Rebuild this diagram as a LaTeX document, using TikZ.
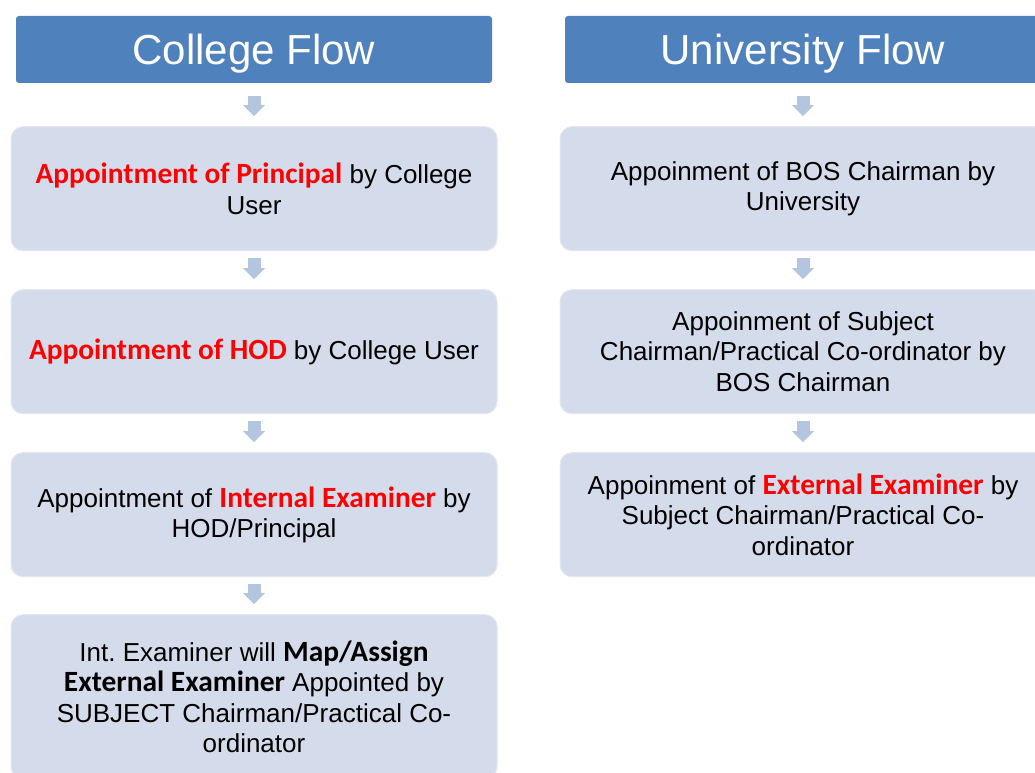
\documentclass[tikz,border=0pt]{standalone}
\usepackage{fontspec}
\setmainfont{Liberation Sans}
\newfontfamily\hlfont[Scale=1.13]{Carlito}
\usetikzlibrary{positioning, arrows.meta}
\frenchspacing

\definecolor{headblue}{RGB}{79,129,189}
\definecolor{stepfill}{RGB}{212,220,235}
\definecolor{stepline}{RGB}{226,231,242}
\definecolor{arrowblue}{RGB}{180,197,224}
\definecolor{hlred}{RGB}{255,0,0}

\newcommand{\redhl}[1]{{\hlfont\bfseries\color{hlred}#1}}
\newcommand{\boldhl}[1]{{\hlfont\bfseries #1}}

\tikzset{
  header/.style={fill=headblue, rounded corners=3pt, minimum width=476pt, minimum height=67pt,
    text=white, font=\fontsize{42}{48}\selectfont, inner sep=0pt, text height=31pt, text depth=0pt},
  stepbox/.style={fill=stepfill, draw=stepline, line width=1pt, rounded corners=12pt,
    minimum width=486pt, minimum height=124pt, align=center, inner sep=0pt,
    font=\fontsize{26}{30.5}\selectfont},
  flowarrow/.style={draw=arrowblue, line width=13pt, -{Triangle[width=21pt,length=11pt]},
    shorten <=7pt, shorten >=10pt}
}

\begin{document}
\begin{tikzpicture}[node distance=38pt]
    \useasboundingbox (0,0) rectangle (1035pt,772pt);
    \clip (0,0) rectangle (1035pt,772pt);

    % college side
    \node (colhead) [header] at (254pt,722.5pt) {College Flow};
    \node (principal) [stepbox, below=43pt of colhead] {\redhl{Appointment of Principal} by College\\User};
    \node (hod) [stepbox, below=of principal] {\redhl{Appointment of HOD} by College User};
    \node (internal) [stepbox, below=of hod] {Appointment of \redhl{Internal Examiner} by\\HOD/Principal};
    \node (mapext) [stepbox, below=37pt of internal, minimum height=164pt] {Int. Examiner will \boldhl{Map/Assign}\\\boldhl{External Examiner} Appointed by\\SUBJECT Chairman/Practical Co-\\ordinator};

    % university side
    \node (unihead) [header] at (803pt,722.5pt) {University Flow};
    \node (bos) [stepbox, below=43pt of unihead] {Appoinment of BOS Chairman by\\University};
    \node (subject) [stepbox, below=of bos] {Appoinment of Subject\\Chairman/Practical Co-ordinator by\\BOS Chairman};
    \node (external) [stepbox, below=of subject] {Appoinment of \redhl{External Examiner} by\\Subject Chairman/Practical Co-\\ordinator};

    \path[flowarrow, shorten <=13pt] (colhead) -- (principal);
    \path[flowarrow] (principal) -- (hod);
    \path[flowarrow] (hod) -- (internal);
    \path[flowarrow] (internal) -- (mapext);
    \path[flowarrow, shorten <=13pt] (unihead) -- (bos);
    \path[flowarrow] (bos) -- (subject);
    \path[flowarrow] (subject) -- (external);
\end{tikzpicture}
\end{document}
